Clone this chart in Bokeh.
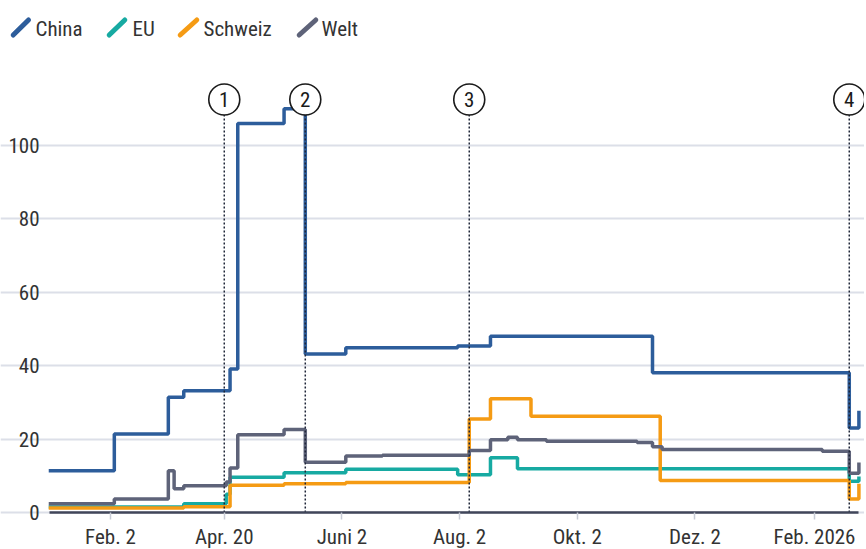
import pandas as pd
from bokeh.plotting import figure
from bokeh.models import Range1d, FixedTicker, Grid
from bokeh.core.properties import value
from bokeh.embed import file_html
from bokeh.resources import INLINE

# ---------------- data ----------------
china_dates = ["2025-01-01", "2025-02-04", "2025-03-04", "2025-03-12", "2025-04-05", "2025-04-09",
               "2025-05-03", "2025-05-14", "2025-06-04", "2025-08-01", "2025-08-18", "2025-11-10",
               "2026-02-20", "2026-02-25"]
china_vals = [11.4, 21.4, 31.4, 33.2, 39.1, 106.0, 110.0, 43.2, 44.9, 45.4, 48.0, 38.1, 23.0, 27.7]

eu_dates = ["2025-01-01", "2025-03-12", "2025-04-03", "2025-04-05", "2025-05-03", "2025-06-04",
            "2025-08-01", "2025-08-18", "2025-09-01", "2026-02-20", "2026-02-25"]
eu_vals = [1.5, 2.4, 5.0, 9.6, 10.8, 11.8, 10.3, 14.9, 11.9, 8.5, 9.8]

ch_dates = ["2025-01-01", "2025-03-12", "2025-04-05", "2025-05-03", "2025-06-04", "2025-08-07",
            "2025-08-18", "2025-09-08", "2025-11-14", "2026-02-20", "2026-02-25"]
ch_vals = [1.2, 1.6, 7.4, 7.8, 8.2, 25.5, 31.0, 26.2, 8.7, 3.7, 7.8]

welt_dates = ["2025-01-01", "2025-02-04", "2025-03-04", "2025-03-07", "2025-03-12", "2025-04-03",
              "2025-04-05", "2025-04-09", "2025-05-03", "2025-05-14", "2025-06-04", "2025-06-23",
              "2025-08-07", "2025-08-18", "2025-08-27", "2025-09-01", "2025-09-16", "2025-11-02",
              "2025-11-10", "2025-11-15", "2026-02-06", "2026-02-20", "2026-02-25"]
welt_vals = [2.4, 3.7, 11.4, 6.5, 7.3, 8.3, 12.1, 21.2, 22.6, 13.7, 15.4, 15.6, 16.9, 19.8, 20.5,
             19.8, 19.4, 19.1, 17.9, 17.2, 16.7, 10.7, 13.6]

series_names = ["China", "EU", "Schweiz", "Welt"]
series_colors = ["#2d5d9b", "#17aaa2", "#f59b14", "#5e6379"]

event_dates = ["2025-04-02", "2025-05-14", "2025-08-07", "2026-02-20"]
event_labels = ["1", "2", "3", "4"]

x_tick_dates = ["2025-02-02", "2025-04-02", "2025-06-02", "2025-08-02", "2025-10-02", "2025-12-02", "2026-02-02"]
x_tick_labels = ["Feb. 2", "Apr. 20", "Juni 2", "Aug. 2", "Okt. 2", "Dez. 2", "Feb. 2026"]
y_ticks = [0, 20, 40, 60, 80, 100]

# ---------------- geometry / styles ----------------
ORIGIN = pd.Timestamp("2025-01-01")


def days(ds):
    return [(pd.Timestamp(d) - ORIGIN).days for d in ds]


W, H = 864, 549
ZERO_PY = 512                # canvas pixel row of the zero line
PX_PER_DAY = 1.929
PX_PER_UNIT = 3.67
X_START = 0.4 - 49 / PX_PER_DAY          # canvas left edge
X_END = X_START + W / PX_PER_DAY
Y_START = -(H - ZERO_PY) / PX_PER_UNIT
Y_END = ZERO_PY / PX_PER_UNIT
PLOT_X0, PLOT_X1 = 0.4, 420.0            # extent of grid / axis line


def cx(px):   # canvas pixel -> data x
    return X_START + px / PX_PER_DAY


def cy(py):   # canvas pixel -> data y
    return (ZERO_PY - py) / PX_PER_UNIT


FONT = "'Roboto Condensed', Roboto, sans-serif"
FS = "21px"
TXT = "#333333"
CIRCLE_PY = 99

# ---------------- figure ----------------
p = figure(width=W, height=H,
           x_range=Range1d(X_START, X_END), y_range=Range1d(Y_START, Y_END),
           output_backend="svg", toolbar_location=None, y_axis_type=None,
           min_border_left=0, min_border_right=0, min_border_top=0, min_border_bottom=0)
p.outline_line_color = None
p.background_fill_color = "white"
p.border_fill_color = "white"
p.xgrid.grid_line_color = None

p.add_layout(Grid(dimension=1, ticker=FixedTicker(ticks=y_ticks), bounds=(PLOT_X0, PLOT_X1),
                  grid_line_color="#dcdfe8", grid_line_width=2))

xt = days(x_tick_dates)
p.xaxis.fixed_location = 0
p.xaxis.ticker = FixedTicker(ticks=xt)
p.xaxis.major_label_overrides = {t: lab for t, lab in zip(xt, x_tick_labels)}
p.xaxis.bounds = (PLOT_X0, PLOT_X1)
p.xaxis.axis_line_color = "#40465a"
p.xaxis.axis_line_width = 2.5
p.xaxis.major_tick_line_color = "#c8ccd6"
p.xaxis.major_tick_line_width = 1.5
p.xaxis.major_tick_in = 0
p.xaxis.major_tick_out = 7
p.xaxis.minor_tick_line_color = None
p.xaxis.major_label_standoff = 5
p.xaxis.major_label_text_font = FONT
p.xaxis.major_label_text_font_size = FS
p.xaxis.major_label_text_color = TXT

# y tick labels (right aligned next to the grid)
p.text([cx(39)] * len(y_ticks), y_ticks, text=[str(t) for t in y_ticks],
       text_align="right", text_baseline="middle",
       text_font=value(FONT), text_font_size=FS, text_color=TXT)

# series
all_series = [(china_dates, china_vals), (eu_dates, eu_vals), (ch_dates, ch_vals), (welt_dates, welt_vals)]
for (ds, vs), col in zip(all_series, series_colors):
    p.step(days(ds), vs, mode="after", line_width=3.5, line_color=col)

# event markers
ex = days(event_dates)
ey = cy(CIRCLE_PY)
p.segment(x0=ex, y0=[0] * len(ex), x1=ex, y1=[ey] * len(ex),
          line_dash="2 2", line_width=1.5, line_color="#1f2638")
p.scatter(ex, [ey] * len(ex), marker="circle", size=31,
          fill_color="white", line_color="#1a1a1a", line_width=1.6)
p.text(ex, [ey] * len(ex), text=event_labels, text_align="center", text_baseline="middle",
       text_font=value(FONT), text_font_size=FS, text_color="#1a1a1a")

# legend (top-left, diagonal colour strokes)
leg_slash_px0 = [12.7, 108.7, 179.7, 298.7]
leg_slash_px1 = [28.0, 124.3, 196.3, 315.3]
leg_text_px = [35, 132, 203, 321]
SLASH_PY0, SLASH_PY1, TEXT_PY = 34.5, 19.5, 28.5
p.segment(x0=[cx(v) for v in leg_slash_px0], y0=[cy(SLASH_PY0)] * 4,
          x1=[cx(v) for v in leg_slash_px1], y1=[cy(SLASH_PY1)] * 4,
          line_color=series_colors, line_width=5, line_cap="round")
p.text([cx(v) for v in leg_text_px], [cy(TEXT_PY)] * 4, text=series_names,
       text_align="left", text_baseline="middle",
       text_font=value(FONT), text_font_size=FS, text_color=TXT)

open("out.html", "w").write(file_html(p, INLINE))
